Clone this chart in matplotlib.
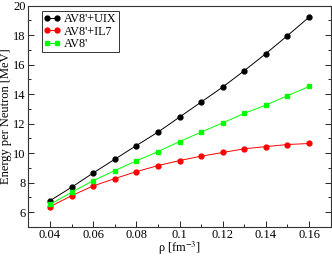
import matplotlib
matplotlib.use("Agg")
import matplotlib.pyplot as plt
from matplotlib.ticker import MultipleLocator

rho = [0.04, 0.05, 0.06, 0.07, 0.08, 0.09, 0.10, 0.11, 0.12, 0.13, 0.14, 0.15, 0.16]
e_uix = [6.77, 7.68, 8.65, 9.58, 10.51, 11.42, 12.44, 13.46, 14.48, 15.59, 16.75, 17.97, 19.22]
e_il7 = [6.36, 7.11, 7.77, 8.27, 8.74, 9.15, 9.49, 9.79, 10.04, 10.29, 10.44, 10.58, 10.65]
e_av8 = [6.52, 7.34, 8.13, 8.81, 9.47, 10.10, 10.78, 11.42, 12.05, 12.69, 13.26, 13.89, 14.52]
labels = ["AV8'+UIX", "AV8'+IL7", "AV8'"]

plt.rcParams['font.family'] = ['Liberation Serif', 'DejaVu Serif']
plt.rcParams['mathtext.fontset'] = 'stix'

fig = plt.figure(figsize=(3.32, 2.58), dpi=100)
ax = fig.add_axes([0.0855, 0.121, 0.9105, 0.857])

ax.plot(rho, e_uix, color='black', lw=0.7, marker='o', ms=3.5, label=labels[0])
ax.plot(rho, e_il7, color='#ff0000', lw=0.7, marker='o', ms=3.5, label=labels[1])
ax.plot(rho, e_av8, color='#00ff00', lw=0.7, marker='s', ms=3.0, label=labels[2])

ax.set_xlim(0.03, 0.17)
ax.set_ylim(5, 20)
ax.xaxis.set_minor_locator(MultipleLocator(0.01))
ax.yaxis.set_minor_locator(MultipleLocator(1))
ax.set_xticks([0.04, 0.06, 0.08, 0.10, 0.12, 0.14, 0.16])
ax.set_xticklabels(['0.04', '0.06', '0.08', '0.1', '0.12', '0.14', '0.16'])
ax.set_yticks([6, 8, 10, 12, 14, 16, 18, 20])
ax.tick_params(which='both', direction='in', top=False, right=True, labelsize=9, width=0.6)
ax.tick_params(axis='x', pad=1.5)
ax.tick_params(axis='y', pad=2)
ax.tick_params(which='major', length=4)
ax.tick_params(which='minor', length=2)
for s in ax.spines.values():
    s.set_linewidth(0.8)
    s.set_color('#333333')

ax.set_xlabel(r"ρ [fm$^{-3}$]", fontsize=8.8, labelpad=-0.5)
ax.set_ylabel("Energy per Neutron [MeV]", fontsize=9, labelpad=1)

leg = ax.legend(loc='upper left', bbox_to_anchor=(0.045, 0.975), fontsize=8.7,
                numpoints=2, handlelength=1.4, handletextpad=0.3, borderpad=0.15,
                labelspacing=0.05, borderaxespad=0.0, fancybox=False, framealpha=1)
leg.get_frame().set_edgecolor('#333333')
leg.get_frame().set_linewidth(0.7)

fig.savefig("out.png", dpi=100)
